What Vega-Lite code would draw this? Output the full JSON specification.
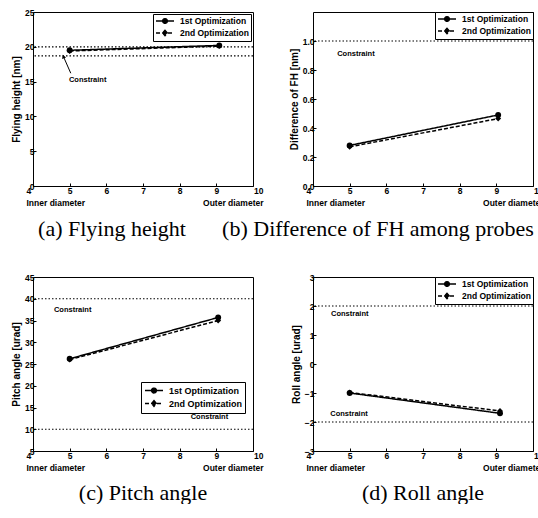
{
  "$schema": "https://vega.github.io/schema/vega-lite/v6.json",
  "background": "white",
  "padding": {"left": 11, "top": 7, "right": 0, "bottom": 0},
  "bounds": "flush",
  "columns": 2,
  "spacing": {"row": 91, "column": 60},
  "resolve": {
    "scale": {"x": "independent", "y": "independent", "strokeDash": "independent"},
    "legend": {"strokeDash": "independent"}
  },
  "config": {
    "view": {"stroke": "black", "strokeWidth": 1},
    "axis": {
      "grid": false, "domain": false, "tickSize": -3, "tickColor": "black",
      "labelFont": "Liberation Sans", "labelFontWeight": "bold", "labelFontSize": 8.5, "labelColor": "black",
      "labelFlush": false, "labelOverlap": false, "labelBound": false,
      "titleFont": "Liberation Sans", "titleFontWeight": "bold", "titleFontSize": 10, "titleColor": "black"
    },
    "axisX": {"labelPadding": 3, "labelLineHeight": 12},
    "axisY": {"labelPadding": 2, "titlePadding": 3},
    "legend": {
      "title": null, "strokeColor": "black", "fillColor": "white", "padding": 2,
      "labelFont": "Liberation Sans", "labelFontSize": 8.5, "labelFontWeight": "bold", "labelColor": "black",
      "symbolSize": 64, "symbolStrokeColor": "black", "symbolStrokeWidth": 1.3, "rowPadding": 1, "labelOffset": 15
    },
    "title": {"font": "Liberation Serif", "fontSize": 22, "fontWeight": "normal", "color": "black", "orient": "bottom", "anchor": "middle", "offset": 12},
    "text": {"font": "Liberation Sans", "fontWeight": "bold", "fontSize": 7.5, "align": "left", "baseline": "middle", "color": "black"}
  },
  "concat": [
    {
      "width": 220, "height": 174,
      "title": {"text": "(a) Flying height", "dx": -31},
      "layer": [
        {
          "data": {"values": [{"y": 20}, {"y": 18.7}]},
          "mark": {"type": "rule", "stroke": "black", "strokeWidth": 1.2, "strokeDash": [1.5, 2]},
          "encoding": {"y": {"field": "y", "type": "quantitative", "scale": {"domain": [0, 25], "nice": false}, "axis": {"title": "Flying height [nm]", "values": [0, 5, 10, 15, 20, 25], "labelOverlap": false}}}
        },
        {
          "data": {"values": [
            {"x": 5, "y": 19.5, "series": "1st Optimization"},
            {"x": 9.08, "y": 20.2, "series": "1st Optimization"},
            {"x": 5, "y": 19.4, "series": "2nd Optimization"},
            {"x": 9.08, "y": 20.1, "series": "2nd Optimization"}
          ]},
          "encoding": {
            "x": {"field": "x", "type": "quantitative", "scale": {"domain": [4, 10], "nice": false},
              "axis": {"title": null, "values": [4, 5, 6, 7, 8, 9, 10], "labelOverlap": false,
                "labelExpr": "datum.value == 4 ? ['\u00a0\u00a04', 'Inner diameter'] : datum.value == 10 ? ['10\u00a0\u00a0', 'Outer diameter'] : datum.label",
                "labelAlign": {"condition": [{"test": "datum.value == 4", "value": "left"}, {"test": "datum.value == 10", "value": "right"}], "value": "center"},
                "labelOffset": {"condition": [{"test": "datum.value == 4", "value": -7}, {"test": "datum.value == 10", "value": 10}], "value": 0}}},
            "y": {"field": "y", "type": "quantitative", "scale": {"domain": [0, 25], "nice": false},
              "axis": {"title": "Flying height [nm]", "values": [0, 5, 10, 15, 20, 25], "labelOverlap": false}}
          },
          "layer": [
            {
              "mark": {"type": "line", "stroke": "black", "strokeWidth": 1.5},
              "encoding": {
                "strokeDash": {"field": "series", "type": "nominal",
                  "scale": {"domain": ["1st Optimization", "2nd Optimization"], "range": [[1, 0], [4, 2]]},
                  "legend": {"orient": "top-right", "offset": 2, "labelColor": "black",
                    "encode": {"symbols": {"update": {
                      "shape": {"signal": "datum.value == '1st Optimization' ? 'M-1,0H3.5M0.65,0A0.6,0.6,0,1,0,1.85,0A0.6,0.6,0,1,0,0.65,0Z' : 'M-1,0H3.5M1.25,-0.7L1.85,0L1.25,0.7L0.65,0Z'"},
                      "fill": {"value": "black"}, "stroke": {"value": "black"}, "strokeWidth": {"value": 1.3}}}}}}
              }
            },
            {
              "transform": [{"filter": "datum.series == '1st Optimization'"}],
              "mark": {"type": "point", "shape": "circle", "filled": true, "color": "black", "size": 35, "opacity": 1}
            },
            {
              "transform": [{"filter": "datum.series == '2nd Optimization'"}],
              "mark": {"type": "point", "shape": "diamond", "filled": true, "color": "black", "size": 35, "opacity": 1}
            },
            {
              "data": {"values": [{"x": 4.98, "y": 15.3, "label": "Constraint"}]},
              "mark": {"type": "text"},
              "encoding": {"text": {"field": "label"}}
            },
            {
              "data": {"values": [{"x": 5.03, "y": 16.2, "x2": 4.83, "y2": 18.6}]},
              "mark": {"type": "rule", "stroke": "black", "strokeWidth": 1},
              "encoding": {"x2": {"field": "x2"}, "y2": {"field": "y2"}}
            },
            {
              "data": {"values": [{"x": 4.83, "y": 18.6}]},
              "mark": {"type": "point", "shape": "triangle-up", "filled": true, "color": "black", "size": 18, "angle": -20, "opacity": 1}
            }
          ]
        }
      ]
    },
    {
      "width": 220, "height": 174,
      "title": {"text": "(b) Difference of FH among probes", "dx": -45},
      "layer": [
        {
          "data": {"values": [{"y": 1}]},
          "mark": {"type": "rule", "stroke": "black", "strokeWidth": 1.2, "strokeDash": [1.5, 2]},
          "encoding": {"y": {"field": "y", "type": "quantitative", "scale": {"domain": [0, 1.2], "nice": false}, "axis": {"title": "Difference of FH [nm]", "values": [0, 0.2, 0.4, 0.6, 0.8, 1], "labelOverlap": false}}}
        },
        {
          "data": {"values": [
            {"x": 5, "y": 0.28, "series": "1st Optimization"},
            {"x": 9.05, "y": 0.49, "series": "1st Optimization"},
            {"x": 5, "y": 0.27, "series": "2nd Optimization"},
            {"x": 9.05, "y": 0.465, "series": "2nd Optimization"}
          ]},
          "encoding": {
            "x": {"field": "x", "type": "quantitative", "scale": {"domain": [4, 10], "nice": false},
              "axis": {"title": null, "values": [4, 5, 6, 7, 8, 9, 10], "labelOverlap": false,
                "labelExpr": "datum.value == 4 ? ['\u00a0\u00a04', 'Inner diameter'] : datum.value == 10 ? ['10\u00a0\u00a0', 'Outer diameter'] : datum.label",
                "labelAlign": {"condition": [{"test": "datum.value == 4", "value": "left"}, {"test": "datum.value == 10", "value": "right"}], "value": "center"},
                "labelOffset": {"condition": [{"test": "datum.value == 4", "value": -7}, {"test": "datum.value == 10", "value": 10}], "value": 0}}},
            "y": {"field": "y", "type": "quantitative", "scale": {"domain": [0, 1.2], "nice": false},
              "axis": {"title": "Difference of FH [nm]", "values": [0, 0.2, 0.4, 0.6, 0.8, 1], "labelOverlap": false}}
          },
          "layer": [
            {
              "mark": {"type": "line", "stroke": "black", "strokeWidth": 1.5},
              "encoding": {
                "strokeDash": {"field": "series", "type": "nominal",
                  "scale": {"domain": ["1st Optimization", "2nd Optimization"], "range": [[1, 0], [4, 2]]},
                  "legend": {"orient": "top-right", "offset": 0, "labelColor": "black",
                    "encode": {"symbols": {"update": {
                      "shape": {"signal": "datum.value == '1st Optimization' ? 'M-1,0H3.5M0.65,0A0.6,0.6,0,1,0,1.85,0A0.6,0.6,0,1,0,0.65,0Z' : 'M-1,0H3.5M1.25,-0.7L1.85,0L1.25,0.7L0.65,0Z'"},
                      "fill": {"value": "black"}, "stroke": {"value": "black"}, "strokeWidth": {"value": 1.3}}}}}}
              }
            },
            {
              "transform": [{"filter": "datum.series == '1st Optimization'"}],
              "mark": {"type": "point", "shape": "circle", "filled": true, "color": "black", "size": 35, "opacity": 1}
            },
            {
              "transform": [{"filter": "datum.series == '2nd Optimization'"}],
              "mark": {"type": "point", "shape": "diamond", "filled": true, "color": "black", "size": 35, "opacity": 1}
            },
            {
              "data": {"values": [{"x": 4.66, "y": 0.91, "label": "Constraint"}]},
              "mark": {"type": "text"},
              "encoding": {"text": {"field": "label"}}
            }
          ]
        }
      ]
    },
    {
      "width": 220, "height": 174,
      "title": {"text": "(c) Pitch angle", "dx": 0, "offset": 11},
      "layer": [
        {
          "data": {"values": [{"y": 40}, {"y": 10}]},
          "mark": {"type": "rule", "stroke": "black", "strokeWidth": 1.2, "strokeDash": [1.5, 2]},
          "encoding": {"y": {"field": "y", "type": "quantitative", "scale": {"domain": [5, 45], "nice": false, "zero": false}, "axis": {"title": "Pitch angle [urad]", "values": [5, 10, 15, 20, 25, 30, 35, 40, 45], "labelOverlap": false}}}
        },
        {
          "data": {"values": [
            {"x": 5, "y": 26.2, "series": "1st Optimization"},
            {"x": 9.05, "y": 35.7, "series": "1st Optimization"},
            {"x": 5, "y": 26.0, "series": "2nd Optimization"},
            {"x": 9.05, "y": 35.0, "series": "2nd Optimization"}
          ]},
          "encoding": {
            "x": {"field": "x", "type": "quantitative", "scale": {"domain": [4, 10], "nice": false},
              "axis": {"title": null, "values": [4, 5, 6, 7, 8, 9, 10], "labelOverlap": false,
                "labelExpr": "datum.value == 4 ? ['\u00a0\u00a04', 'Inner diameter'] : datum.value == 10 ? ['10\u00a0\u00a0', 'Outer diameter'] : datum.label",
                "labelAlign": {"condition": [{"test": "datum.value == 4", "value": "left"}, {"test": "datum.value == 10", "value": "right"}], "value": "center"},
                "labelOffset": {"condition": [{"test": "datum.value == 4", "value": -7}, {"test": "datum.value == 10", "value": 10}], "value": 0}}},
            "y": {"field": "y", "type": "quantitative", "scale": {"domain": [5, 45], "nice": false, "zero": false},
              "axis": {"title": "Pitch angle [urad]", "values": [5, 10, 15, 20, 25, 30, 35, 40, 45], "labelOverlap": false}}
          },
          "layer": [
            {
              "mark": {"type": "line", "stroke": "black", "strokeWidth": 1.5},
              "encoding": {
                "strokeDash": {"field": "series", "type": "nominal",
                  "scale": {"domain": ["1st Optimization", "2nd Optimization"], "range": [[1, 0], [4, 2]]},
                  "legend": {"orient": "none", "legendX": 108, "legendY": 105, "labelFontSize": 9, "padding": 3, "labelColor": "black", "symbolSize": 81, "labelOffset": 14,
                    "encode": {"symbols": {"update": {
                      "shape": {"signal": "datum.value == '1st Optimization' ? 'M-1,0H3M0.45,0A0.55,0.55,0,1,0,1.55,0A0.55,0.55,0,1,0,0.45,0Z' : 'M-1,0H3M1,-0.65L1.55,0L1,0.65L0.45,0Z'"},
                      "fill": {"value": "black"}, "stroke": {"value": "black"}, "strokeWidth": {"value": 1.3}}}}}}
              }
            },
            {
              "transform": [{"filter": "datum.series == '1st Optimization'"}],
              "mark": {"type": "point", "shape": "circle", "filled": true, "color": "black", "size": 35, "opacity": 1}
            },
            {
              "transform": [{"filter": "datum.series == '2nd Optimization'"}],
              "mark": {"type": "point", "shape": "diamond", "filled": true, "color": "black", "size": 35, "opacity": 1}
            },
            {
              "data": {"values": [{"x": 4.57, "y": 37.4, "label": "Constraint"}, {"x": 8.3, "y": 12.8, "label": "Constraint"}]},
              "mark": {"type": "text"},
              "encoding": {"text": {"field": "label"}}
            }
          ]
        }
      ]
    },
    {
      "width": 220, "height": 174,
      "title": {"text": "(d) Roll angle", "dx": 0, "offset": 11},
      "layer": [
        {
          "data": {"values": [{"y": 2}, {"y": -2}]},
          "mark": {"type": "rule", "stroke": "black", "strokeWidth": 1.2, "strokeDash": [1.5, 2]},
          "encoding": {"y": {"field": "y", "type": "quantitative", "scale": {"domain": [-3, 3], "nice": false}, "axis": {"title": "Roll angle [urad]", "values": [-3, -2, -1, 0, 1, 2, 3], "labelOverlap": false}}}
        },
        {
          "data": {"values": [
            {"x": 5, "y": -1.0, "series": "1st Optimization"},
            {"x": 9.1, "y": -1.7, "series": "1st Optimization"},
            {"x": 5, "y": -0.98, "series": "2nd Optimization"},
            {"x": 9.1, "y": -1.62, "series": "2nd Optimization"}
          ]},
          "encoding": {
            "x": {"field": "x", "type": "quantitative", "scale": {"domain": [4, 10], "nice": false},
              "axis": {"title": null, "values": [4, 5, 6, 7, 8, 9, 10], "labelOverlap": false,
                "labelExpr": "datum.value == 4 ? ['\u00a0\u00a04', 'Inner diameter'] : datum.value == 10 ? ['10\u00a0\u00a0', 'Outer diameter'] : datum.label",
                "labelAlign": {"condition": [{"test": "datum.value == 4", "value": "left"}, {"test": "datum.value == 10", "value": "right"}], "value": "center"},
                "labelOffset": {"condition": [{"test": "datum.value == 4", "value": -7}, {"test": "datum.value == 10", "value": 10}], "value": 0}}},
            "y": {"field": "y", "type": "quantitative", "scale": {"domain": [-3, 3], "nice": false},
              "axis": {"title": "Roll angle [urad]", "values": [-3, -2, -1, 0, 1, 2, 3], "labelOverlap": false}}
          },
          "layer": [
            {
              "mark": {"type": "line", "stroke": "black", "strokeWidth": 1.5},
              "encoding": {
                "strokeDash": {"field": "series", "type": "nominal",
                  "scale": {"domain": ["1st Optimization", "2nd Optimization"], "range": [[1, 0], [4, 2]]},
                  "legend": {"orient": "top-right", "offset": 0, "labelColor": "black",
                    "encode": {"symbols": {"update": {
                      "shape": {"signal": "datum.value == '1st Optimization' ? 'M-1,0H3.5M0.65,0A0.6,0.6,0,1,0,1.85,0A0.6,0.6,0,1,0,0.65,0Z' : 'M-1,0H3.5M1.25,-0.7L1.85,0L1.25,0.7L0.65,0Z'"},
                      "fill": {"value": "black"}, "stroke": {"value": "black"}, "strokeWidth": {"value": 1.3}}}}}}
              }
            },
            {
              "transform": [{"filter": "datum.series == '1st Optimization'"}],
              "mark": {"type": "point", "shape": "circle", "filled": true, "color": "black", "size": 35, "opacity": 1}
            },
            {
              "transform": [{"filter": "datum.series == '2nd Optimization'"}],
              "mark": {"type": "point", "shape": "diamond", "filled": true, "color": "black", "size": 35, "opacity": 1}
            },
            {
              "data": {"values": [{"x": 4.49, "y": 1.71, "label": "Constraint"}, {"x": 4.47, "y": -1.72, "label": "Constraint"}]},
              "mark": {"type": "text"},
              "encoding": {"text": {"field": "label"}}
            }
          ]
        }
      ]
    }
  ]
}
